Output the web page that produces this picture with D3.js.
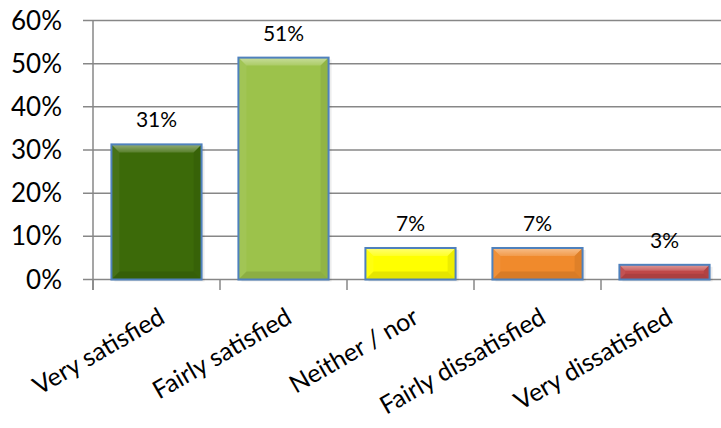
<!DOCTYPE html>
<html><head><meta charset="utf-8">
<script src="https://cdn.jsdelivr.net/npm/d3@7"></script>
<style>body{margin:0;background:#fff}svg{display:block}</style>
</head><body>
<svg id="chart" width="721" height="428"></svg>
<script>
const categories = ["Very satisfied","Fairly satisfied","Neither / nor","Fairly dissatisfied","Very dissatisfied"];
const values = [0.313, 0.514, 0.073, 0.073, 0.034];
const barColors = ["#3C6A09","#9CC24B","#FFFF00","#F08A2C","#C04848"];
const yTicks = [0,0.1,0.2,0.3,0.4,0.5,0.6];

const svg = d3.select("#chart");
const font = "Lato, 'Open Sans', sans-serif";
const x = d3.scaleBand().domain(categories).range([93, 728]).paddingInner(0.29).paddingOuter(0.145);
const y = d3.scaleLinear().domain([0, 0.6]).range([279.5, 20.5]);
const grid = "#878787";

const defs = svg.append("defs");
const tg = defs.append("linearGradient").attr("id", "topBevel").attr("x1", 0).attr("y1", 0).attr("x2", 0).attr("y2", 1);
tg.append("stop").attr("offset", 0).attr("stop-color", "#fff").attr("stop-opacity", 0.45);
tg.append("stop").attr("offset", 1).attr("stop-color", "#fff").attr("stop-opacity", 0.15);

// gridlines
svg.append("g").selectAll("line").data(yTicks).join("line")
  .attr("x1", 83).attr("x2", 721)
  .attr("y1", d => y(d)).attr("y2", d => y(d))
  .attr("stroke", grid).attr("stroke-width", 1.5);

// y axis line
svg.append("line").attr("x1", 93).attr("x2", 93).attr("y1", y(0.6)).attr("y2", 290)
  .attr("stroke", grid).attr("stroke-width", 1.5);

// x ticks at band boundaries
const step = x.step();
const bounds = d3.range(categories.length + 1).map(i => x.range()[0] + i * step);
svg.append("g").selectAll("line").data(bounds).join("line")
  .attr("x1", d => d).attr("x2", d => d).attr("y1", y(0)).attr("y2", 290)
  .attr("stroke", grid).attr("stroke-width", 1.5);

// y tick labels
svg.append("g").selectAll("text").data(yTicks).join("text")
  .attr("x", 62).attr("y", d => y(d) + 9)
  .attr("text-anchor", "end")
  .attr("font-family", font).attr("font-size", 26).attr("fill", "#000")
  .text(d3.format(".0%"));

// bars
const bars = svg.append("g").selectAll("g").data(categories).join("g");
bars.each(function(c, i) {
  const g = d3.select(this);
  const bx = x(c), bw = x.bandwidth(), by = y(values[i]), bh = y(0) - y(values[i]);
  const b = Math.min(8, bh / 2.5);
  const col = d3.color(barColors[i]);
  g.append("rect").attr("x", bx + 3).attr("y", by + 2).attr("width", bw).attr("height", bh)
    .attr("fill", "#000").attr("opacity", 0.07);
  g.append("rect").attr("x", bx).attr("y", by).attr("width", bw).attr("height", bh).attr("fill", col.formatHex());
  const poly = (pts, fill, op) => g.append("polygon").attr("points", pts.map(p => p.join(",")).join(" "))
    .attr("fill", fill).attr("opacity", op);
  poly([[bx,by],[bx+bw,by],[bx+bw-b,by+b],[bx+b,by+b]], "url(#topBevel)", 1);
  poly([[bx,by],[bx+b,by+b],[bx+b,by+bh-b],[bx,by+bh]], "#fff", 0.06);
  poly([[bx+bw,by],[bx+bw-b,by+b],[bx+bw-b,by+bh-b],[bx+bw,by+bh]], "#000", 0.07);
  poly([[bx,by+bh],[bx+b,by+bh-b],[bx+bw-b,by+bh-b],[bx+bw,by+bh]], "#000", 0.1);
  g.append("rect").attr("x", bx).attr("y", by).attr("width", bw).attr("height", bh)
    .attr("fill", "none").attr("stroke", "#4F81BD").attr("stroke-width", 2);
  g.append("text").attr("x", bx + bw / 2).attr("y", by - 17)
    .attr("text-anchor", "middle").attr("font-family", font).attr("font-size", 21).attr("fill", "#000")
    .text(d3.format(".0%")(values[i]));
});

// category labels
svg.append("g").selectAll("text").data(categories).join("text")
  .attr("transform", d => `translate(${x(d) + x.bandwidth() / 2 + 10},322) rotate(-30)`)
  .attr("text-anchor", "end")
  .attr("font-family", font).attr("font-size", 25).attr("fill", "#000")
  .text(d => d);
</script>
</body></html>
